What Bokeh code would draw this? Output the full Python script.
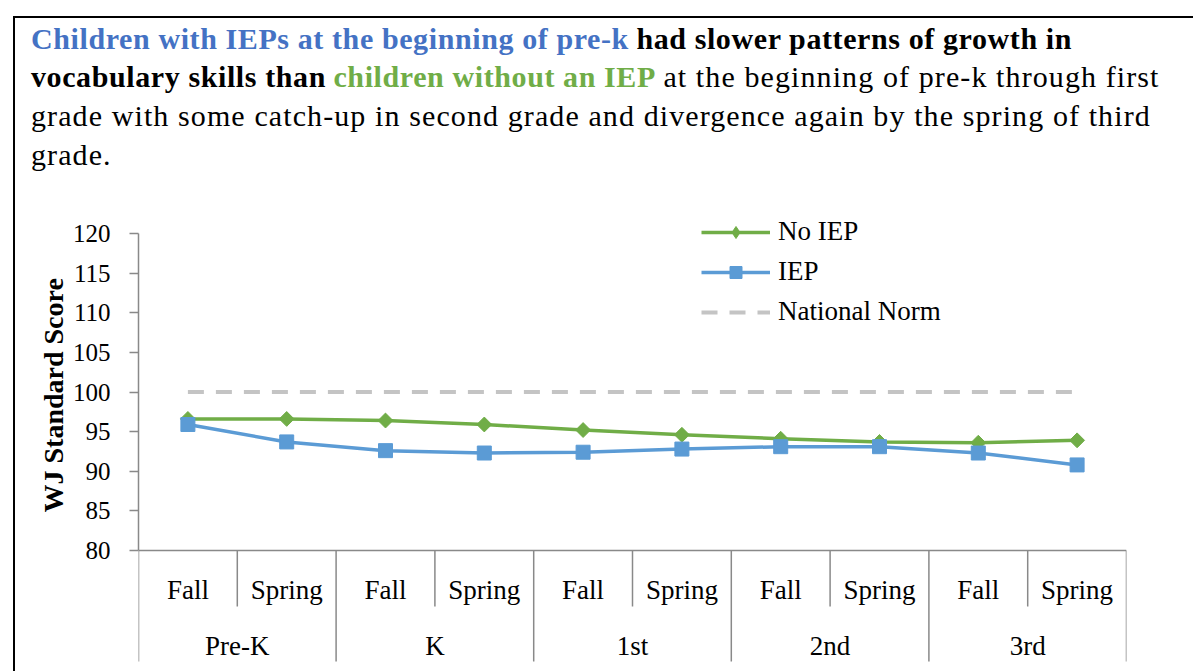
from bokeh.plotting import figure
from bokeh.models import (FactorRange, Range1d, FixedTicker, Legend, LegendItem, Div,
                          ColumnDataSource, Title)
from bokeh.layouts import column
from bokeh.embed import file_html
from bokeh.resources import INLINE
from bokeh.core.properties import value
import math

# ---------------- data ----------------
grades = ["Pre-K", "K", "1st", "2nd", "3rd"]
terms = ["Fall", "Spring"]
no_iep = [96.6, 96.6, 96.4, 95.9, 95.2, 94.6, 94.1, 93.7, 93.6, 93.9]
iep = [95.9, 93.7, 92.6, 92.3, 92.4, 92.8, 93.1, 93.1, 92.3, 90.8]
national_norm = [100, 100, 100, 100, 100, 100, 100, 100, 100, 100]
y_ticks = [80, 85, 90, 95, 100, 105, 110, 115, 120]
y_title = "WJ Standard Score"

factors = [(g, t) for g in grades for t in terms]

FONT = "Liberation Serif"
AX = "#898989"

# ---------------- title (HTML) ----------------
B = "font-weight:bold;letter-spacing:0.6px;"
R = "letter-spacing:1.1px;"
title_html = f"""
<div style="position:relative;width:1182px;height:200px;">
  <div style="position:absolute;left:13px;top:16px;width:1180px;height:660px;border-left:2px solid #000;border-top:2px solid #000;"></div>
  <div style="position:absolute;left:31px;top:19.5px;font-family:'Liberation Serif',serif;font-size:30px;line-height:38.7px;color:#000;white-space:nowrap;">
<span style="color:#4472C4;{B}">Children with IEPs at the beginning of pre-k</span> <span style="{B}">had slower patterns of growth in</span><br>
<span style="{B}">vocabulary skills than</span> <span style="color:#70AD47;{B}">children without an IEP</span> <span style="{R}">at the beginning of pre-k through first</span><br>
<span style="{R}">grade with some catch-up in second grade and divergence again by the spring of third</span><br>
<span style="{R}">grade.</span>
  </div>
</div>
"""
title = Div(text=title_html, width=1182, height=200, margin=0,
            styles={"overflow": "visible", "z-index": "2"})

# ---------------- chart ----------------
H = 465
TOP = 200  # page y of the figure top
px_per_unit = (550 - 233) / 40.0
y_top = 120 + (233 - TOP) / px_per_unit
y_bot = 80 - (TOP + H - 550) / px_per_unit

p = figure(x_range=FactorRange(*factors, factor_padding=0, subgroup_padding=0,
                               group_padding=0, range_padding=0),
           y_range=Range1d(y_bot, y_top),
           width=1182, height=H, output_backend="svg", toolbar_location=None,
           x_axis_location=None, min_border_left=138, min_border_right=56,
           min_border_top=0, min_border_bottom=0, margin=0)
p.outline_line_color = None
p.background_fill_alpha = 0
p.border_fill_alpha = 0
p.xgrid.visible = False
p.ygrid.visible = False

ya = p.yaxis[0]
ya.bounds = (80, 120)
ya.ticker = FixedTicker(ticks=y_ticks)
ya.minor_tick_line_color = None
ya.major_tick_in = 0
ya.major_tick_out = 9
ya.major_tick_line_color = AX
ya.major_tick_line_width = 1.5
ya.axis_line_color = AX
ya.axis_line_width = 1.5
ya.major_label_text_font = FONT
ya.major_label_text_font_size = "25px"
ya.major_label_text_color = "#000000"
ya.major_label_standoff = 19

# axis title, placed along the 80..120 part of the axis
p.add_layout(Title(text=y_title, align="left", offset=(TOP + H - 512), standoff=2,
                   text_font=FONT, text_font_style="bold", text_font_size="28px",
                   text_color="#000000"), "left")

src = ColumnDataSource(dict(x=factors, no_iep=no_iep, iep=iep, norm=national_norm))

# x axis line and category separators (library's categorical scale)
first = (grades[0], terms[0], -0.5)
last = (grades[-1], terms[-1], 0.5)
p.segment(x0=[first], y0=[80], x1=[last], y1=[80], line_color=AX, line_width=1.5)
major_x = [(g, terms[0], -0.5) for g in grades] + [last]
p.segment(x0=major_x, y0=[80] * len(major_x), x1=major_x,
          y1=[80 - 111 / px_per_unit] * len(major_x), line_color=AX, line_width=1.5)
minor_x = [(g, terms[1], -0.5) for g in grades]
p.segment(x0=minor_x, y0=[80] * len(minor_x), x1=minor_x,
          y1=[80 - 56 / px_per_unit] * len(minor_x), line_color=AX, line_width=1.5)

# category labels
p.text(x=factors, y=[80 - 39 / px_per_unit] * len(factors), text=[t for g in grades for t in terms],
       text_align="center", text_baseline="middle", text_font=value(FONT),
       text_font_size="27px", text_color="#000000")
p.text(x=grades, y=[80 - 95 / px_per_unit] * len(grades), text=grades,
       text_align="center", text_baseline="middle", text_font=value(FONT),
       text_font_size="27px", text_color="#000000")

# series
GREEN = "#70AD47"
BLUE = "#5B9BD5"
GRAY = "#C4C4C4"
norm_r = p.line("x", "norm", source=src, line_color=GRAY, line_width=4, line_dash="16 12")
g_line = p.line("x", "no_iep", source=src, line_color=GREEN, line_width=3.5)
b_line = p.line("x", "iep", source=src, line_color=BLUE, line_width=3.5)
# upright diamond hidden under the rotated square; used for the legend glyph
g_leg = p.scatter("x", "no_iep", source=src, marker="diamond", size=9,
                  fill_color=GREEN, line_color=GREEN)
g_mark = p.scatter("x", "no_iep", source=src, marker="square", angle=math.pi / 4, size=10.5,
                   fill_color=GREEN, line_color=GREEN)
b_mark = p.scatter("x", "iep", source=src, marker="square", size=14,
                   fill_color=BLUE, line_color=BLUE)

legend = Legend(items=[LegendItem(label="No IEP", renderers=[g_line, g_leg]),
                       LegendItem(label="IEP", renderers=[b_line, b_mark]),
                       LegendItem(label="National Norm", renderers=[norm_r])],
                location=(563, H - 19 - 108), orientation="vertical",
                glyph_width=69, glyph_height=30, spacing=9, padding=0, margin=0,
                label_standoff=8, border_line_color=None, background_fill_alpha=0,
                label_text_font=FONT, label_text_font_size="27px",
                label_text_color="#000000")
p.add_layout(legend)

layout = column(title, p, margin=0, spacing=0)
html = file_html(layout, INLINE, title="chart")
open("out.html", "w").write(html)
